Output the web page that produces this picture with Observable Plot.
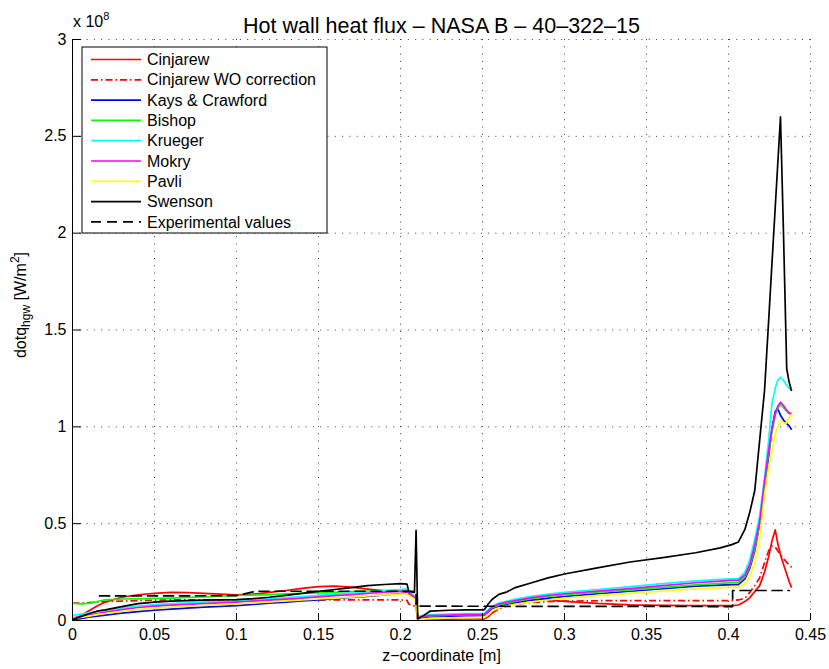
<!DOCTYPE html>
<html>
<head>
<meta charset="utf-8">
<script src="https://cdn.jsdelivr.net/npm/d3@7"></script>
<script src="https://cdn.jsdelivr.net/npm/@observablehq/plot@0.6"></script>
<style>
  body { margin: 0; background: #fff; }
  #chart svg { display: block; }
</style>
</head>
<body>
<div id="chart"></div>
<script>
// Axial position along the chamber wall [m]
const z = [
  0, 0.005, 0.01, 0.015, 0.02, 0.03, 0.04, 0.05, 0.06, 0.07,
  0.08, 0.09, 0.1, 0.11, 0.12, 0.13, 0.14, 0.15, 0.16, 0.17,
  0.18, 0.19, 0.2, 0.204, 0.205, 0.2085, 0.2095, 0.2105, 0.213, 0.218,
  0.23, 0.24, 0.251, 0.2535, 0.256, 0.26, 0.265, 0.27, 0.28, 0.29,
  0.3, 0.32, 0.34, 0.36, 0.38, 0.395, 0.402, 0.406, 0.41, 0.413,
  0.416, 0.419, 0.422, 0.4245, 0.4265, 0.4285, 0.43, 0.4317, 0.4335, 0.4355,
  0.437, 0.4385
];

// Hot wall heat flux per correlation, in units of 1e8 W/m^2
const cinjarew = [
  0.005, 0.025, 0.05, 0.075, 0.095, 0.12, 0.133, 0.14, 0.145, 0.144,
  0.14, 0.136, 0.133, 0.136, 0.145, 0.155, 0.166, 0.175, 0.177, 0.172,
  0.162, 0.153, 0.15, 0.148, 0.135, 0.12, 0.1, 0.005, 0.005, 0.006,
  0.007, 0.008, 0.008, 0.02, 0.04, 0.065, 0.085, 0.1, 0.108, 0.105,
  0.099, 0.088, 0.081, 0.078, 0.077, 0.077, 0.077, 0.08, 0.098, 0.117,
  0.15, 0.18, 0.25, 0.33, 0.41, 0.468, 0.4, 0.34, 0.29, 0.24,
  0.2, 0.17
];
const cinjarewWO = [
  0.09, 0.09, 0.092, 0.095, 0.098, 0.1, 0.103, 0.105, 0.106, 0.107,
  0.107, 0.107, 0.107, 0.107, 0.107, 0.107, 0.107, 0.107, 0.107, 0.107,
  0.107, 0.107, 0.106, 0.104, 0.085, 0.075, 0.07, 0.005, 0.008, 0.009,
  0.01, 0.01, 0.01, 0.02, 0.04, 0.06, 0.075, 0.085, 0.093, 0.097,
  0.1, 0.102, 0.103, 0.103, 0.103, 0.103, 0.103, 0.106, 0.115, 0.145,
  0.18, 0.22, 0.3, 0.36, 0.385, 0.38, 0.36, 0.34, 0.32, 0.3,
  0.285, 0.275
];
const kaysCrawford = [
  0.004, 0.01, 0.017, 0.023, 0.028, 0.038, 0.046, 0.053, 0.059, 0.064,
  0.069, 0.073, 0.077, 0.083, 0.089, 0.095, 0.101, 0.107, 0.113, 0.119,
  0.125, 0.132, 0.138, 0.141, 0.135, 0.115, 0.1, 0.01, 0.015, 0.02,
  0.023, 0.025, 0.026, 0.045, 0.062, 0.075, 0.085, 0.092, 0.105, 0.116,
  0.124, 0.138, 0.151, 0.164, 0.177, 0.183, 0.185, 0.185, 0.215, 0.27,
  0.36, 0.5, 0.68, 0.85, 0.99, 1.08, 1.093, 1.06, 1.035, 1.017,
  1.005, 0.985
];
const bishop = [
  0.089, 0.086, 0.088, 0.098, 0.107, 0.111, 0.112, 0.114, 0.116, 0.119,
  0.122, 0.126, 0.129, 0.131, 0.134, 0.137, 0.14, 0.143, 0.146, 0.149,
  0.152, 0.155, 0.157, 0.158, 0.15, 0.125, 0.11, 0.012, 0.018, 0.024,
  0.027, 0.029, 0.03, 0.048, 0.066, 0.08, 0.09, 0.098, 0.113, 0.124,
  0.133, 0.146, 0.158, 0.171, 0.184, 0.192, 0.196, 0.196, 0.225, 0.28,
  0.37, 0.5, 0.7, 0.87, 0.98, 1.06, 1.095, 1.115, 1.1, 1.08,
  1.068, 1.062
];
const krueger = [
  0.026, 0.033, 0.04, 0.047, 0.053, 0.065, 0.075, 0.082, 0.087, 0.091,
  0.095, 0.098, 0.1, 0.106, 0.112, 0.118, 0.124, 0.13, 0.136, 0.142,
  0.148, 0.154, 0.16, 0.163, 0.155, 0.125, 0.11, 0.02, 0.025, 0.03,
  0.033, 0.035, 0.036, 0.055, 0.075, 0.09, 0.1, 0.11, 0.125, 0.136,
  0.146, 0.16, 0.175, 0.19, 0.205, 0.212, 0.215, 0.215, 0.25, 0.315,
  0.42, 0.54, 0.74, 0.93, 1.12, 1.2, 1.24, 1.256, 1.24, 1.215,
  1.2, 1.187
];
const mokry = [
  0.014, 0.02, 0.028, 0.036, 0.043, 0.056, 0.067, 0.074, 0.079, 0.083,
  0.087, 0.091, 0.095, 0.1, 0.105, 0.11, 0.116, 0.122, 0.128, 0.134,
  0.14, 0.146, 0.15, 0.151, 0.143, 0.12, 0.105, 0.015, 0.02, 0.025,
  0.028, 0.03, 0.031, 0.05, 0.07, 0.085, 0.095, 0.103, 0.118, 0.129,
  0.138, 0.152, 0.165, 0.18, 0.195, 0.203, 0.207, 0.207, 0.235, 0.29,
  0.39, 0.51, 0.72, 0.88, 0.99, 1.07, 1.105, 1.127, 1.11, 1.085,
  1.072, 1.067
];
const pavli = [
  0.01, 0.016, 0.023, 0.03, 0.036, 0.047, 0.057, 0.064, 0.069, 0.074,
  0.078, 0.082, 0.086, 0.091, 0.096, 0.101, 0.106, 0.111, 0.116, 0.121,
  0.127, 0.132, 0.136, 0.138, 0.13, 0.11, 0.095, 0.004, 0.007, 0.01,
  0.013, 0.014, 0.015, 0.03, 0.05, 0.065, 0.076, 0.084, 0.096, 0.106,
  0.115, 0.128, 0.14, 0.152, 0.164, 0.17, 0.172, 0.172, 0.19, 0.23,
  0.3, 0.42, 0.65, 0.79, 0.878, 0.96, 1.0, 1.033, 1.022, 1.02,
  1.045, 1.067
];
const swenson = [
  0.005, 0.02, 0.035, 0.048, 0.055, 0.072, 0.087, 0.095, 0.1, 0.103,
  0.105, 0.107, 0.108, 0.113, 0.12, 0.13, 0.14, 0.15, 0.16, 0.17,
  0.18, 0.186, 0.19, 0.188, 0.15, 0.145, 0.465, 0.008, 0.02, 0.048,
  0.053, 0.055, 0.055, 0.085, 0.11, 0.135, 0.148, 0.17, 0.195, 0.22,
  0.24, 0.272, 0.302, 0.325, 0.35, 0.375, 0.392, 0.405, 0.47, 0.56,
  0.67, 0.93, 1.19, 1.552, 1.843, 2.134, 2.352, 2.6, 2.01, 1.3,
  1.23, 1.185
];

// Measured heat flux
const expZ = [0.0165, 0.1, 0.112, 0.2095, 0.2095, 0.4025, 0.4025, 0.437];
const expQ = [0.127, 0.128, 0.151, 0.151, 0.074, 0.072, 0.155, 0.155];

const seriesNames = [
  "Cinjarew", "Cinjarew WO correction", "Kays & Crawford", "Bishop",
  "Krueger", "Mokry", "Pavli", "Swenson"
];
const seriesValues = [cinjarew, cinjarewWO, kaysCrawford, bishop, krueger, mokry, pavli, swenson];
const expName = "Experimental values";

const xTicks = [0, 0.05, 0.1, 0.15, 0.2, 0.25, 0.3, 0.35, 0.4, 0.45];
const yTicks = [0, 0.5, 1, 1.5, 2, 2.5, 3];

// Line styles
const style = {
  "Cinjarew": {stroke: "#ff0000"},
  "Cinjarew WO correction": {stroke: "#ff0000", dash: "7,3,1.5,3"},
  "Kays & Crawford": {stroke: "#0000ff"},
  "Bishop": {stroke: "#00ff00"},
  "Krueger": {stroke: "#00ffff"},
  "Mokry": {stroke: "#ff00ff"},
  "Pavli": {stroke: "#ffff00"},
  "Swenson": {stroke: "#000000"},
  "Experimental values": {stroke: "#000000", dash: "10,6"}
};

const seriesRows = seriesNames.map((name, k) =>
  seriesValues[k].map((q, i) => ({name, z: z[i], q}))
);
const expRows = expZ.map((zz, i) => ({name: expName, z: zz, q: expQ[i]}));

const font = "'Liberation Sans', Arial, Helvetica, sans-serif";
const gridStyle = {stroke: "#000", strokeOpacity: 0.75, strokeWidth: 1, strokeDasharray: "1,6.3"};
const lineWidth = 1.7;

const lineMarks = seriesRows.map((rows) => {
  const s = style[rows[0].name];
  return Plot.line(rows, {x: "z", y: "q", stroke: s.stroke, strokeWidth: lineWidth,
    strokeDasharray: s.dash, strokeLinejoin: "round", strokeLinecap: "butt"});
});

const chart = Plot.plot({
  width: 829,
  height: 669,
  marginLeft: 72,
  marginRight: 19,
  marginTop: 39,
  marginBottom: 49,
  style: {fontFamily: font, fontSize: "16px", background: "#fff", color: "#000"},
  x: {domain: [0, 0.45], label: null},
  y: {domain: [0, 3], label: null},
  marks: [
    Plot.ruleX(xTicks, gridStyle),
    Plot.ruleY(yTicks, gridStyle),
    ...lineMarks,
    Plot.line(expRows, {x: "z", y: "q", stroke: style[expName].stroke, strokeWidth: lineWidth,
      strokeDasharray: style[expName].dash}),
    Plot.ruleX([0], {stroke: "#000", strokeWidth: 1}),
    Plot.ruleY([0], {stroke: "#000", strokeWidth: 1}),
    Plot.axisX({ticks: xTicks, tickSize: -7, tickFormat: () => "", label: null}),
    Plot.axisX({ticks: xTicks, tickSize: 0, tickPadding: 8, tickFormat: d => String(d), label: null, fontSize: 16}),
    Plot.axisY({ticks: yTicks, tickSize: -9, tickFormat: () => "", label: null}),
    Plot.axisY({ticks: yTicks, tickSize: 0, tickPadding: 6, tickFormat: d => String(d), label: null, fontSize: 16}),
    Plot.text(["Hot wall heat flux – NASA B – 40–322–15"], {frameAnchor: "top", dy: -22, fontSize: 21.5}),
    Plot.text(["z−coordinate [m]"], {frameAnchor: "bottom", dy: 40, fontSize: 16})
  ]
});

document.getElementById("chart").appendChild(chart);

const svg = d3.select(chart);

// Scale factor label above the y axis: x 10^8
const expo = svg.append("text")
  .attr("x", 73).attr("y", 27).attr("text-anchor", "start")
  .attr("font-family", font).attr("font-size", 16).attr("fill", "#000");
expo.append("tspan").text("x 10");
expo.append("tspan").attr("dy", -7).attr("font-size", 11).text("8");

// Y axis title with subscript and superscript
const ylab = svg.append("text")
  .attr("transform", "translate(26,305) rotate(-90)")
  .attr("text-anchor", "middle")
  .attr("font-family", font).attr("font-size", 16).attr("fill", "#000");
ylab.append("tspan").text("dotq");
ylab.append("tspan").attr("dy", 4).attr("font-size", 12).text("hgw");
ylab.append("tspan").attr("dy", -4).text(" [W/m");
ylab.append("tspan").attr("dy", -7).attr("font-size", 12).text("2");
ylab.append("tspan").attr("dy", 7).text("]");

// Legend box
const legendNames = [...seriesNames, expName];
const lg = svg.append("g").attr("transform", "translate(82,47)");
lg.append("rect").attr("width", 245).attr("height", 186)
  .attr("fill", "#fff").attr("stroke", "#000").attr("stroke-width", 1);
legendNames.forEach((name, i) => {
  const s = style[name];
  const yy = 12.5 + i * 20.3;
  lg.append("line").attr("x1", 9).attr("x2", 59).attr("y1", yy).attr("y2", yy)
    .attr("stroke", s.stroke).attr("stroke-width", lineWidth)
    .attr("stroke-dasharray", s.dash || null);
  lg.append("text").attr("x", 65).attr("y", yy).attr("dy", "0.35em")
    .attr("text-anchor", "start")
    .attr("font-family", font).attr("font-size", 16).attr("fill", "#000").text(name);
});
</script>
</body>
</html>
